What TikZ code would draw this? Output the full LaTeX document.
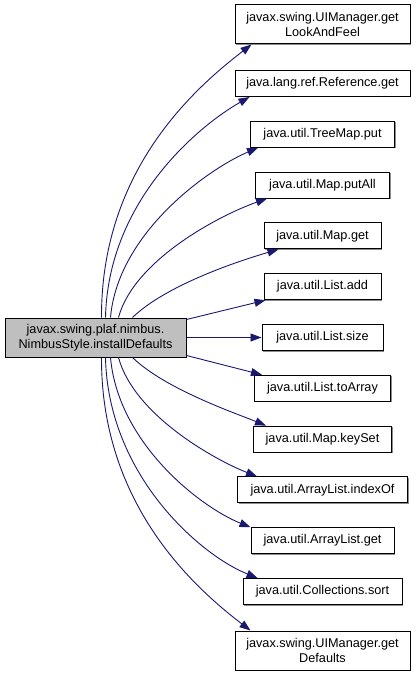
\documentclass[tikz,border=0pt]{standalone}
\usepackage{fontspec}
\setmainfont{Liberation Sans}
\usetikzlibrary{arrows.meta,shadows}
\definecolor{edgeblue}{HTML}{191970}
\definecolor{srcgray}{HTML}{BFBFBF}
\begin{document}
\begin{tikzpicture}[x=1pt,y=-1pt,
  box/.style={draw=black,line width=1pt,fill=white,inner sep=0pt,align=center,
    font=\fontsize{12.7}{14.5}\selectfont,
    drop shadow={shadow xshift=1pt,shadow yshift=-1pt,fill=black!45,opacity=1}},
  onebox/.style={box,minimum height=26pt},
  twobox/.style={box,minimum height=39pt},
  edge/.style={draw=edgeblue,line width=0.9pt,-{Triangle[length=11pt,width=8pt]}}]
\useasboundingbox (0,0) rectangle (416,676);
\node[twobox,fill=srcgray,minimum width=181pt] (src) at (95.5,337.5) {javax.swing.plaf.nimbus.\\NimbusStyle.installDefaults};
\node[twobox,minimum width=175pt] (t1) at (322.5,24.5) {javax.swing.UIManager.get\\LookAndFeel};
\node[onebox,minimum width=175pt] (t2) at (322.5,83.5) {java.lang.ref.Reference.get};
\node[onebox,minimum width=144pt] (t3) at (322.5,134.3) {java.util.TreeMap.put};
\node[onebox,minimum width=134pt] (t4) at (322.5,185.1) {java.util.Map.putAll};
\node[onebox,minimum width=117pt] (t5) at (322.5,235.9) {java.util.Map.get};
\node[onebox,minimum width=117pt] (t6) at (322.5,286.7) {java.util.List.add};
\node[onebox,minimum width=121pt] (t7) at (322.5,337.5) {java.util.List.size};
\node[onebox,minimum width=136pt] (t8) at (322.5,388.3) {java.util.List.toArray};
\node[onebox,minimum width=138pt] (t9) at (322.5,439.1) {java.util.Map.keySet};
\node[onebox,minimum width=170pt] (t10) at (322.5,489.9) {java.util.ArrayList.indexOf};
\node[onebox,minimum width=143pt] (t11) at (322.5,540.7) {java.util.ArrayList.get};
\node[onebox,minimum width=159pt] (t12) at (322.5,591.5) {java.util.Collections.sort};
\node[twobox,minimum width=175pt] (t13) at (322.5,650.5) {javax.swing.UIManager.get\\Defaults};
% upper fan
\draw[edge] ([xshift=97pt]src.north west) .. controls (101,170) and (195,88) .. ([xshift=17pt]t1.south west);
\draw[edge] ([xshift=101pt]src.north west) .. controls (108,200) and (200,125) .. ([xshift=15pt]t2.south west);
\draw[edge] ([xshift=106pt]src.north west) .. controls (118,232) and (210,168) .. ([xshift=8pt]t3.south west);
\draw[edge] ([xshift=114pt]src.north west) .. controls (134,260) and (220,215) .. ([xshift=12pt]t4.south west);
\draw[edge] ([xshift=128pt]src.north west) .. controls (165,286) and (235,262) .. ([xshift=15pt]t5.south west);
% right side
\draw[edge] ([yshift=-2pt]src.north east) -- ([xshift=2pt]t6.south west);
\draw[edge] (src.east) -- (t7.west);
\draw[edge] ([yshift=2pt]src.south east) -- ([xshift=8pt]t8.north west);
% lower fan
\draw[edge] ([xshift=128pt]src.south west) .. controls (165,389) and (235,413) .. ([xshift=13pt]t9.north west);
\draw[edge] ([xshift=114pt]src.south west) .. controls (134,415) and (215,460) .. ([xshift=20pt]t10.north west);
\draw[edge] ([xshift=106pt]src.south west) .. controls (118,443) and (200,507) .. ([xshift=0pt]t11.north west);
\draw[edge] ([xshift=101pt]src.south west) .. controls (108,475) and (200,555) .. ([xshift=15pt]t12.north west);
\draw[edge] ([xshift=97pt]src.south west) .. controls (101,505) and (195,588) .. ([xshift=16pt]t13.north west);
\end{tikzpicture}
\end{document}
